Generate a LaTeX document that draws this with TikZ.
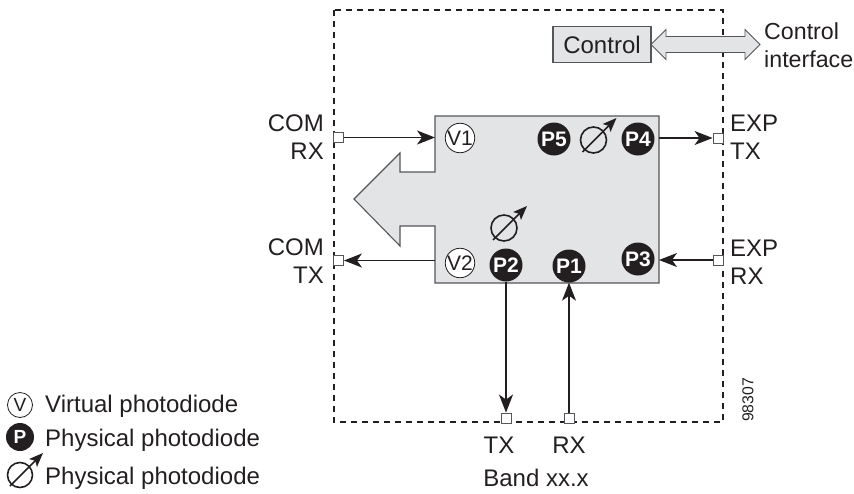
\documentclass[tikz,border=0pt]{standalone}
\usepackage{fontspec}
\setmainfont{Liberation Sans}
\usetikzlibrary{arrows.meta,calc}
\definecolor{panel}{HTML}{E3E4E6}
\definecolor{ink}{HTML}{231F20}
\definecolor{edge}{HTML}{55565A}
\tikzset{
  lab/.style={font=\fontsize{24}{28.5}\selectfont,text=ink,inner sep=0pt,align=left},
  labr/.style={lab,align=right},
  port/.style={draw=edge,fill=white,line width=0.9pt,minimum size=10pt,inner sep=0pt,rectangle},
  vcirc/.style={circle,draw=ink,fill=white,line width=0.8pt,minimum size=29pt,inner sep=0pt,text=ink,font=\fontsize{21}{21}\selectfont},
  pcirc/.style={circle,fill=ink,minimum size=33pt,inner sep=0pt,text=white,font=\bfseries\fontsize{21}{21}\selectfont},
  conn/.style={draw=ink,line width=1.1pt,-{Stealth[length=18pt,width=14pt,inset=5pt]}},
  vararrow/.style={draw=ink,line width=1.6pt,-{Stealth[length=14pt,width=11pt,inset=3pt]}},
}
\newcommand{\varsym}[3]{%
  \node[circle,draw=ink,line width=1.6pt,minimum size=#3pt,inner sep=0pt] (#1) at #2 {};
  \draw[vararrow] ($(#1)+(-11,12)$) -- ($(#1)+(23,-22)$);
}
\begin{document}
\begin{tikzpicture}[x=1pt,y=-1pt]
\useasboundingbox (0,0) rectangle (854,493);
% boundary
\draw[draw=ink,line width=1.1pt,dash pattern=on 6pt off 5pt] (334,10) rectangle (723,422);
% main block
\coordinate (mA) at (435,116);
\coordinate (mB) at (659,116);
\coordinate (mC) at (659,283);
\coordinate (mD) at (435,283);
\draw[draw=edge,fill=panel,line width=1.1pt] (mA) -- (mB) -- (mC) -- (mD) -- (435,226) -- (400,226) -- (400,246) -- (354,199) -- (400,153) -- (400,172) -- (435,172) -- cycle;
% ports
\node[port] (pcr) at (338.5,137.5) {};
\node[port] (pct) at (338.5,260.5) {};
\node[port] (pet) at (718,138) {};
\node[port] (per) at (718,260) {};
\node[port] (ptx) at (506,418) {};
\node[port] (prx) at (569,418) {};
% diodes
\node[vcirc] (v1) at (460,138) {V1};
\node[vcirc] (v2) at (460,263) {V2};
\node[pcirc] (p5) at (554,139) {P5};
\node[pcirc] (p4) at (638,139) {P4};
\node[pcirc] (p3) at (638,259) {P3};
\node[pcirc] (p2) at (506,265) {P2};
\node[pcirc] (p1) at (569,266) {P1};
\varsym{va}{(504,228)}{26}
\varsym{vb}{(593.5,140)}{26}
% connectors
\draw[conn] (pcr.east) -- (pcr.east -| mA);
\draw[conn] (pct.east -| mA) -- (pct.east);
\draw[conn] (pet.west -| mB) -- (pet.west);
\draw[conn] (per.west) -- (per.west -| mB);
\draw[conn] (p2.south) -- (ptx.north);
\draw[conn] (prx.north) -- (p1.south);
% control
\node[draw=edge,fill=panel,line width=1.1pt,minimum width=98pt,minimum height=36pt,inner sep=0pt,font=\fontsize{24}{28}\selectfont,text=ink] (ctrl) at (602,44.5) {Control};
\coordinate (cL) at (651,44.5);
\coordinate (cR) at (760,44.5);
\draw[draw=edge,fill=panel,line width=0.9pt]
  (cL) -- ++(15,-15) -- ++(0,7) -- ($(cR)+(-15,-8)$) -- ++(0,-7) -- (cR) -- ++(-15,15) -- ++(0,-7) -- ($(cL)+(15,8)$) -- ++(0,7) -- cycle;
% labels
\node[lab,anchor=west,font=\fontsize{23.2}{28.5}\selectfont] (lci) at (764,45) {Control\\interface};
\node[labr,anchor=east] (lcr) at (324,137) {COM\\RX};
\node[labr,anchor=east] (lct) at (324,261) {COM\\TX};
\node[lab,anchor=west] (ler) at (730,137) {EXP\\TX};
\node[lab,anchor=west] (let) at (730,262) {EXP\\RX};
\node[lab] (ltx) at (499,445) {TX};
\node[lab] (lrx) at (569,445) {RX};
\node[lab] (lband) at (536,478) {Band xx.x};
\node[rotate=90,font=\fontsize{15.8}{15.8}\selectfont,text=ink,inner sep=0pt] (num) at (748,400) {98307};
% legend
\node[vcirc,minimum size=25pt,font=\fontsize{19}{19}\selectfont] (lv) at (20,405) {V};
\node[pcirc,minimum size=28pt,font=\bfseries\fontsize{19}{19}\selectfont] (lp) at (20,437) {P};
\node[circle,draw=ink,line width=1.6pt,minimum size=25pt,inner sep=0pt] (lvar) at (20,475) {};
\draw[vararrow] ($(lvar)+(-10,11)$) -- ($(lvar)+(23,-22)$);
\node[lab,anchor=base west] (t1) at (45,412) {Virtual photodiode};
\node[lab,anchor=base west] (t2) at (45,446) {Physical photodiode};
\node[lab,anchor=base west] (t3) at (45,484) {Physical photodiode};
\end{tikzpicture}
\end{document}
